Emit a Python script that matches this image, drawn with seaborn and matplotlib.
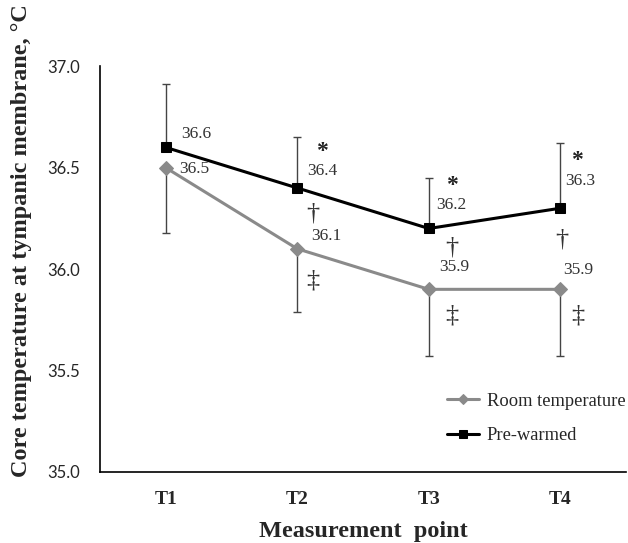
import numpy as np
import pandas as pd
import matplotlib
matplotlib.use("Agg")
import matplotlib.pyplot as plt
import seaborn as sns

# data
puntos = ["T1", "T2", "T3", "T4"]
room_temp = [36.5, 36.1, 35.9, 35.9]
pre_warmed = [36.6, 36.4, 36.2, 36.3]
room_sd = [0.32, 0.31, 0.33, 0.33]
pre_sd = [0.31, 0.25, 0.25, 0.32]
pre_star = ["", "*", "*", "*"]
pre_dagger = ["", "†", "†", "†"]
room_ddagger = ["", "‡", "‡", "‡"]

# label offsets (pixels) relative to each marker
off_pre_val = [(16, 13), (10, 17), (7, 23), (5, 27)]
off_star = [(0, 0), (25, 36), (23, 43), (17, 48)]
off_dagger = [(0, 0), (16, -26), (23, -19), (1, -31)]
off_room_val = [(14, -1), (14, 13), (10, 22), (3, 19)]
off_ddagger = [(0, 0), (16, -32), (23, -26), (17, -26)]

sns.set_style("white")
plt.rcParams["font.family"] = ["Liberation Serif", "DejaVu Serif"]

df = pd.DataFrame({
    "punto": puntos * 2,
    "temp": room_temp + pre_warmed,
    "grupo": ["Room temperature"] * 4 + ["Pre-warmed"] * 4,
})

fig = plt.figure(figsize=(6.28, 5.43), dpi=100)
ax = fig.add_axes([0.159, 0.131, 0.838, 0.747])

x = np.arange(len(puntos))
# one-sided error bars: room downwards, pre-warmed upwards
ax.errorbar(x, room_temp, yerr=[room_sd, [0] * 4], fmt="none", ecolor="#444444",
            elinewidth=1, capsize=3, capthick=1, zorder=1)
ax.errorbar(x, pre_warmed, yerr=[[0] * 4, pre_sd], fmt="none", ecolor="#444444",
            elinewidth=1, capsize=3, capthick=1, zorder=1)

sns.lineplot(data=df, x="punto", y="temp", hue="grupo", style="grupo",
             palette={"Room temperature": "#8a8a8a", "Pre-warmed": "#000000"},
             markers={"Room temperature": "D", "Pre-warmed": "s"},
             dashes=False, markersize=7, linewidth=2.2, markeredgecolor=None,
             ax=ax, zorder=3, sort=False)

# value labels and significance symbols
for i in range(len(puntos)):
    ax.annotate(f"{pre_warmed[i]:.1f}", (x[i], pre_warmed[i]), xytext=off_pre_val[i],
                textcoords="offset pixels", fontsize=12.5, color="#333333", va="center")
    ax.annotate(f"{room_temp[i]:.1f}", (x[i], room_temp[i]), xytext=off_room_val[i],
                textcoords="offset pixels", fontsize=12.5, color="#333333", va="center")
    if i == 0:
        continue
    ax.annotate(pre_star[i], (x[i], pre_warmed[i]), xytext=off_star[i],
                textcoords="offset pixels", fontsize=17, color="#222222",
                ha="center", va="center", fontweight="bold")
    ax.annotate(pre_dagger[i], (x[i], pre_warmed[i]), xytext=off_dagger[i],
                textcoords="offset pixels", fontsize=19, color="#333333",
                ha="center", va="center")
    ax.annotate(room_ddagger[i], (x[i], room_temp[i]), xytext=off_ddagger[i],
                textcoords="offset pixels", fontsize=19, color="#333333",
                ha="center", va="center")

ax.set_xlim(-0.5, 3.5)
ax.set_ylim(35.0, 37.0)
ax.set_yticks([35.0, 35.5, 36.0, 36.5, 37.0])
ax.set_yticklabels([f"{v:.1f}" for v in [35.0, 35.5, 36.0, 36.5, 37.0]],
                   family="Lato", fontsize=12)
ax.set_xticks(x)
ax.set_xticklabels(puntos, fontsize=14, fontweight="bold")
ax.tick_params(axis="x", length=0, pad=14)
ax.tick_params(axis="y", length=0, pad=14)

ax.set_xlabel("Measurement  point", fontsize=17.5, fontweight="bold", labelpad=9)
ax.set_ylabel("Core temperature at tympanic membrane, °C", fontsize=17.5, fontweight="bold")
ax.yaxis.set_label_coords(-0.128, 0.571)

for lado in ["top", "right"]:
    ax.spines[lado].set_visible(False)
for lado in ["left", "bottom"]:
    ax.spines[lado].set_color("black")
    ax.spines[lado].set_linewidth(1.2)

ax.legend(title=None, frameon=False, loc="upper left", bbox_to_anchor=(0.66, 0.195),
          borderaxespad=0, borderpad=0, fontsize=13.3, handlelength=1.7,
          handletextpad=0.45, labelspacing=0.95, markerscale=0.75)

fig.savefig("out.png", dpi=100)
